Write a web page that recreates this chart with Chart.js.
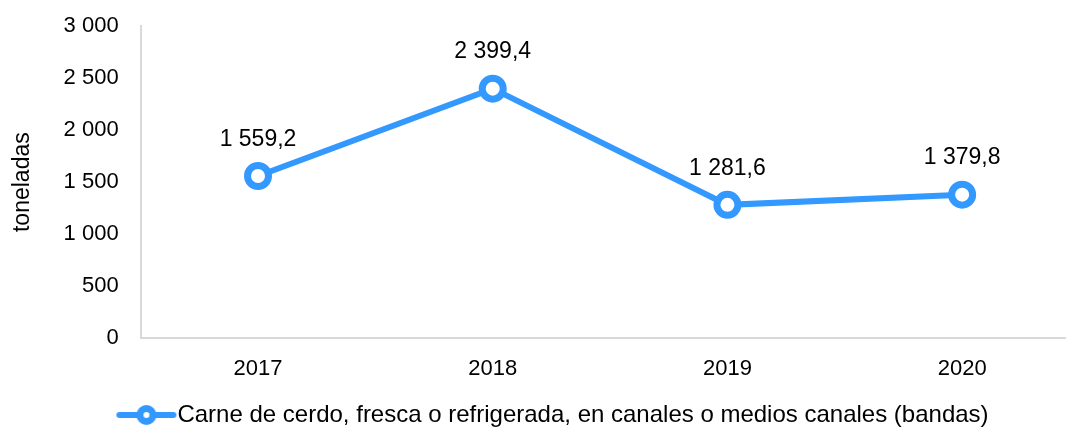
<!DOCTYPE html>
<html>
<head>
<meta charset="utf-8">
<script src="https://cdn.jsdelivr.net/npm/chart.js@4/dist/chart.umd.min.js"></script>
<style>
  html, body { margin: 0; padding: 0; background: #fff; overflow: hidden; }
  #wrap { width: 1097px; height: 446px; margin-top: -9px; }
</style>
</head>
<body>
<div id="wrap"><canvas id="grafica"></canvas></div>
<script>
// datos
var anios = ["2017", "2018", "2019", "2020"];
var toneladas = [1559.2, 2399.4, 1281.6, 1379.8];
var nombreSerie = "Carne de cerdo, fresca o refrigerada, en canales o medios canales (bandas)";
var azul = "#3399ff";
var fuente = "'Liberation Sans', Arial, sans-serif";

function formato(v, dec) {
  var partes = v.toFixed(dec).split(".");
  var ent = partes[0].replace(/\B(?=(\d{3})+(?!\d))/g, " ");
  return partes.length > 1 ? ent + "," + partes[1] : ent;
}

// icono de la leyenda: linea con circulo
var icono = document.createElement("canvas");
icono.width = 80; icono.height = 24;
var ic = icono.getContext("2d");
ic.strokeStyle = azul; ic.lineWidth = 6; ic.lineCap = "round";
ic.beginPath(); ic.moveTo(18, 12); ic.lineTo(72, 12); ic.stroke();
ic.fillStyle = "#fff"; ic.lineWidth = 7;
ic.beginPath(); ic.arc(45, 12, 6.5, 0, Math.PI * 2); ic.fill(); ic.stroke();

// etiquetas de valor encima de los puntos
var etiquetas = {
  id: "etiquetas",
  afterDatasetsDraw: function(chart) {
    var ctx = chart.ctx;
    var meta = chart.getDatasetMeta(0);
    ctx.save();
    ctx.font = "23px " + fuente;
    ctx.fillStyle = "#000";
    ctx.textAlign = "center";
    ctx.textBaseline = "bottom";
    meta.data.forEach(function(p, i) {
      ctx.fillText(formato(toneladas[i], 1), p.x, p.y - 25);
    });
    ctx.restore();
  }
};

var ctx = document.getElementById("grafica").getContext("2d");
new Chart(ctx, {
  type: "line",
  data: {
    labels: anios,
    datasets: [{
      label: nombreSerie,
      data: toneladas,
      borderColor: azul,
      borderWidth: 6,
      pointRadius: 10.5,
      pointHoverRadius: 10.5,
      pointBorderWidth: 7,
      pointBackgroundColor: "#fff",
      pointBorderColor: azul,
      tension: 0
    }]
  },
  options: {
    responsive: true,
    maintainAspectRatio: false,
    animation: false,
    layout: { padding: { top: 4, right: 0, left: 9, bottom: 0 } },
    scales: {
      x: {
        offset: true,
        grid: { display: false, drawTicks: false },
        border: { color: "#d9d9d9", width: 2 },
        ticks: { color: "#000", padding: 18, font: { size: 22, family: fuente } }
      },
      y: {
        min: 0,
        max: 3000,
        grid: { display: false, drawTicks: false },
        border: { color: "#d9d9d9", width: 2 },
        ticks: {
          stepSize: 500,
          color: "#000",
          padding: 22,
          font: { size: 22, family: fuente },
          callback: function(v) { return formato(v, 0); }
        },
        title: {
          display: true,
          text: "toneladas",
          color: "#000",
          padding: { top: 0, bottom: 5 },
          font: { size: 23, family: fuente }
        }
      }
    },
    plugins: {
      legend: {
        position: "bottom",
        labels: {
          color: "#000",
          usePointStyle: true,
          pointStyleWidth: 48,
          padding: 2.5,
          font: { size: 24, family: fuente },
          generateLabels: function(chart) {
            return [{ text: nombreSerie, pointStyle: icono, fontColor: "#000", datasetIndex: 0, lineWidth: 0, strokeStyle: "transparent", fillStyle: "transparent" }];
          }
        }
      },
      tooltip: { enabled: false }
    }
  },
  plugins: [etiquetas]
});
</script>
</body>
</html>
